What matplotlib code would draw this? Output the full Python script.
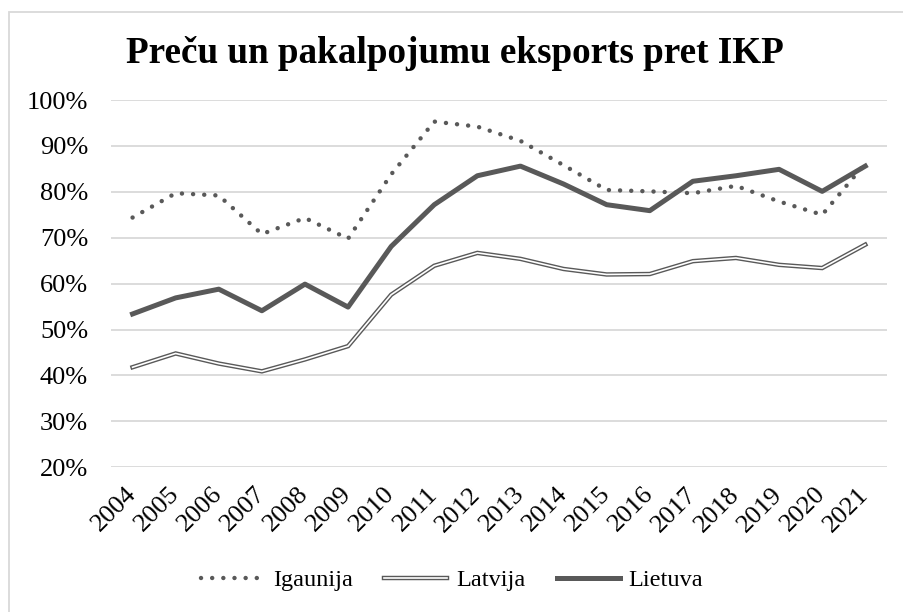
import numpy as np
import matplotlib
matplotlib.use("Agg")
import matplotlib.pyplot as plt
from matplotlib.lines import Line2D
from matplotlib.patches import Rectangle
from matplotlib.legend_handler import HandlerTuple
from matplotlib.ticker import PercentFormatter

plt.rcParams['font.family'] = ['Liberation Serif', 'DejaVu Serif']

# data (percent of GDP)
years = [str(y) for y in range(2004, 2022)]
igaunija = [74.4, 79.7, 79.2, 70.8, 74.3, 69.8, 83.8, 95.3, 94.2, 91.1, 85.8,
            80.4, 80.1, 79.7, 81.3, 77.9, 75.0, 86.2]
latvija = [41.8, 44.8, 42.6, 40.9, 43.5, 46.4, 57.6, 63.9, 66.7, 65.4, 63.2,
           62.0, 62.1, 64.9, 65.6, 64.1, 63.4, 68.5]
lietuva = [53.4, 56.9, 58.8, 54.1, 59.9, 54.9, 68.1, 77.2, 83.5, 85.6, 81.7,
           77.2, 75.9, 82.3, 83.5, 84.9, 80.1, 85.6]

gray = '#595959'
dots = (0, (0.01, 2.5))

fig = plt.figure(figsize=(9.04, 6.12), dpi=100)
ax = fig.add_axes([0.1228, 0.2364, 0.8582, 0.6002])

x = np.arange(len(years))
ax.plot(x, igaunija, color=gray, lw=3.2, linestyle=dots,
        dash_capstyle='round', zorder=3)
ax.plot(x, latvija, color=gray, lw=3.2, solid_joinstyle='miter', zorder=3)
ax.plot(x, latvija, color='white', lw=1.2, solid_joinstyle='miter', zorder=4)
ax.plot(x, lietuva, color=gray, lw=3.6, zorder=5)

ax.set_xlim(-0.5, len(years) - 0.5)
ax.set_ylim(20, 100)
ax.set_yticks(np.arange(20, 101, 10))
ax.yaxis.set_major_formatter(PercentFormatter(decimals=0))
ax.set_xticks(x)
ax.set_xticklabels(years, rotation=45, ha='right', va='center',
                   rotation_mode='anchor')
ax.tick_params(axis='both', length=0, labelsize=19)
ax.tick_params(axis='y', pad=16.5)
ax.tick_params(axis='x', pad=17)
ax.grid(axis='y', color='#d9d9d9', lw=1.3)
ax.set_axisbelow(True)
for s in ax.spines.values():
    s.set_visible(False)

fig.text(0.503, 0.912, 'Preču un pakalpojumu eksports pret IKP',
         ha='center', va='center', fontsize=26.7, fontweight='bold')

# outer chart border
fig.patches.append(Rectangle((9 / 904, -0.1), 1.2, 1.1 - 12 / 612,
                             transform=fig.transFigure, fill=False,
                             edgecolor='#d9d9d9', lw=1.3))

h1 = Line2D([], [], color=gray, lw=3.2, linestyle=dots, dash_capstyle='round')
h2 = (Line2D([], [], color=gray, lw=3.2), Line2D([], [], color='white', lw=1.2))
h3 = Line2D([], [], color=gray, lw=3.6)
fig.legend([h1, h2, h3], ['Igaunija', 'Latvija', 'Lietuva'],
           handler_map={tuple: HandlerTuple(ndivide=1, pad=0)},
           loc='center', bbox_to_anchor=(0.5, 0.052), ncol=3, frameon=False,
           fontsize=17.5, handlelength=2.6, handletextpad=0.35,
           columnspacing=1.3)

fig.savefig('out.png', dpi=100)
